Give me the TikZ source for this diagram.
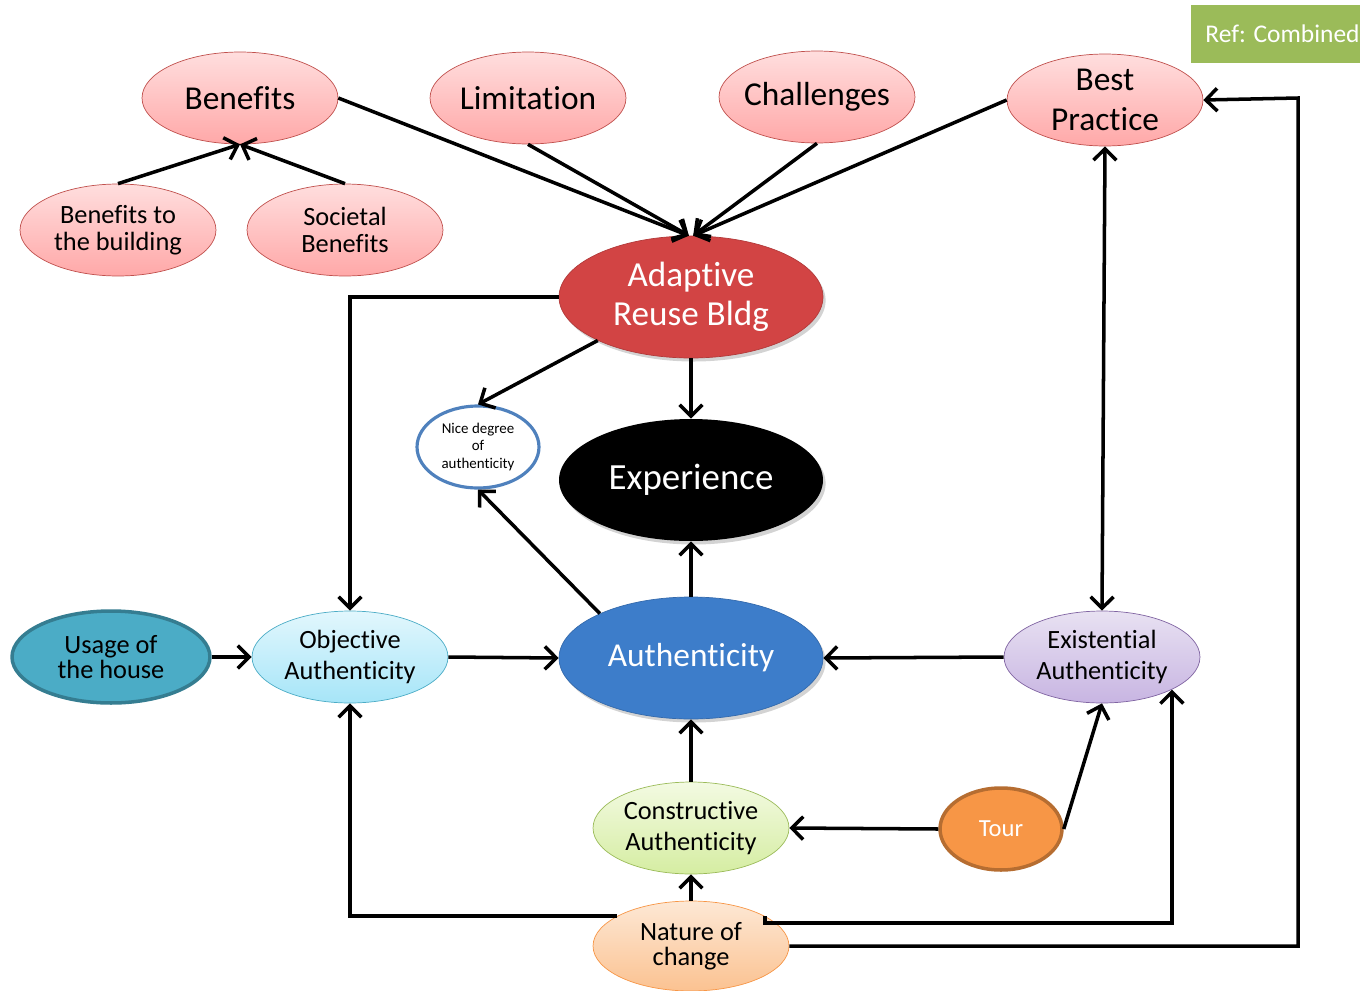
\documentclass[tikz,border=0pt]{standalone}
\usepackage{fontspec}
\setmainfont{Carlito}[Ligatures=NoCommon]
\usetikzlibrary{arrows.meta, shapes.geometric, shadows}

\definecolor{pinkline}{HTML}{C0504D}
\definecolor{pinktop}{HTML}{FFDEDE}
\definecolor{pinkbot}{HTML}{FFA8A8}
\definecolor{arbred}{HTML}{D24444}
\definecolor{authblue}{HTML}{3D7DCA}
\definecolor{niceline}{HTML}{4F81BD}
\definecolor{usefill}{HTML}{4BACC6}
\definecolor{useline}{HTML}{357D91}
\definecolor{objtop}{HTML}{E2F7FD}
\definecolor{objbot}{HTML}{A6E5F8}
\definecolor{exitop}{HTML}{E8E1F2}
\definecolor{exibot}{HTML}{C8B5E2}
\definecolor{exiline}{HTML}{8064A2}
\definecolor{contop}{HTML}{F3FAE2}
\definecolor{conbot}{HTML}{D5EDA2}
\definecolor{conline}{HTML}{9BBB59}
\definecolor{tourfill}{HTML}{F79646}
\definecolor{tourline}{HTML}{B66D31}
\definecolor{nattop}{HTML}{FDE8D5}
\definecolor{natbot}{HTML}{FBC291}
\definecolor{refgreen}{HTML}{9BBB59}

\begin{document}
\begin{tikzpicture}[x=0.02cm, y=-0.02cm,
  >={Straight Barb[length=6.5pt,width=13pt]},
  conn/.style={line width=2pt},
  bubble/.style={ellipse, inner sep=-3pt, align=center,
    minimum width=3.92cm, minimum height=1.84cm},
  pinkb/.style={bubble, draw=pinkline, top color=pinktop, bottom color=pinkbot,
    font=\fontsize{19}{23}\selectfont},
  pinks/.style={bubble, draw=pinkline, top color=pinktop, bottom color=pinkbot,
    font=\fontsize{15}{15.5}\selectfont},
  bigb/.style={bubble, minimum width=5.28cm, minimum height=2.44cm, text=white,
    font=\fontsize{20}{22}\selectfont,
    drop shadow={shadow xshift=1.5pt, shadow yshift=-2pt, opacity=0.35}},
  niceb/.style={bubble, minimum width=2.44cm, minimum height=1.64cm,
    draw=niceline, line width=1.8pt, fill=white, font=\fontsize{8.5}{10}\selectfont},
  useb/.style={bubble, minimum width=3.96cm, draw=useline, line width=2pt,
    fill=usefill, font=\fontsize{15}{14.5}\selectfont},
  objb/.style={bubble, draw=usefill, top color=objtop, bottom color=objbot,
    font=\fontsize{15}{18}\selectfont},
  exib/.style={bubble, draw=exiline, top color=exitop, bottom color=exibot,
    font=\fontsize{15}{18}\selectfont},
  conb/.style={bubble, draw=conline, top color=contop, bottom color=conbot,
    font=\fontsize{15}{18}\selectfont},
  tourb/.style={bubble, minimum width=2.44cm, minimum height=1.64cm,
    draw=tourline, line width=2pt, fill=tourfill, text=white,
    font=\fontsize{14}{16}\selectfont},
  natb/.style={bubble, minimum height=1.8cm, draw=tourfill, top color=nattop,
    bottom color=natbot, font=\fontsize{15}{14}\selectfont},
  refbox/.style={rectangle, fill=refgreen, text=white, minimum width=3.38cm,
    minimum height=1.16cm, inner sep=0pt, font=\fontsize{14.5}{16}\selectfont}]

  \useasboundingbox (0,0) rectangle (1360,991);

  % top row
  \node (ben) at (240,98) [pinkb] {Benefits};
  \node (lim) at (528,98) [pinkb] {Limitation};
  \node (cha) at (817,97) [pinkb] {Challenges};
  \node (bp) at (1105,100) [pinkb] {Best\\Practice};
  \node (bbld) at (118,230) [pinks] {Benefits to\\the building};
  \node (soc) at (345,230) [pinks] {Societal\\Benefits};
  \node (ref) at (1275.5,34) [refbox] {\hspace*{8pt}Ref: Combined};

  % middle
  \node (arb) at (691,297) [bigb, fill=arbred, draw=arbred!85!black] {Adaptive\\Reuse Bldg};
  \node (nice) at (478,447) [niceb] {Nice degree\\of\\authenticity};
  \node (exp) at (691,480) [bigb, fill=black, font=\fontsize{21}{22}\selectfont] {Experience};
  \node (use) at (111,657) [useb] {Usage of\\the house};
  \node (obj) at (350,657) [objb] {Objective\\Authenticity};
  \node (auth) at (691,658) [bigb, fill=authblue, draw=authblue!85!black,
    font=\fontsize{19}{22}\selectfont] {Authenticity};
  \node (exi) at (1102,657) [exib] {Existential\\Authenticity};

  % bottom
  \node (con) at (691,828) [conb] {Constructive\\Authenticity};
  \node (tour) at (1001,829) [tourb] {Tour};
  \node (nat) at (691,946) [natb] {Nature of\\change};

  \draw [conn, ->] (ben.east) -- (arb.92);
  \draw [conn, ->] (lim.south) -- (arb.92);
  \draw [conn, ->] (cha.south) -- (arb.88);
  \draw [conn, ->] (bp.west) -- (arb.88);
  \draw [conn, ->] (bbld.north) -- (ben.south);
  \draw [conn, ->] (soc.north) -- (ben.south);

  \draw [conn, ->] (arb.west) -| (obj.north);
  \draw [conn, ->] (arb.205) -- (nice.north);
  \draw [conn, ->] (arb.south) -- (exp.north);
  \draw [conn, ->] (auth.north) -- (exp.south);
  \draw [conn, ->] (auth.154) -- (nice.south);
  \draw [conn, ->] (use.east) -- (obj.west);
  \draw [conn, ->] (obj.east) -- (auth.west);
  \draw [conn, ->] (exi.west) -- (auth.east);
  \draw [conn, <->] (bp.south) -- (exi.north);

  \draw [conn, ->] (con.north) -- (auth.south);
  \draw [conn, ->] (tour.west) -- (con.east);
  \draw [conn, ->] (tour.east) -- (exi.south);
  \draw [conn, ->] (nat.north) -- (con.south);
  \draw [conn, ->] (nat.158) -| (obj.south);
  \draw [conn, ->] (nat.22) -- ++(0,7) -| (exi.-25);
  \coordinate (rt) at (1298,98);
  \draw [conn, ->] (nat.east) -| (rt) -- (bp.east);
\end{tikzpicture}
\end{document}
